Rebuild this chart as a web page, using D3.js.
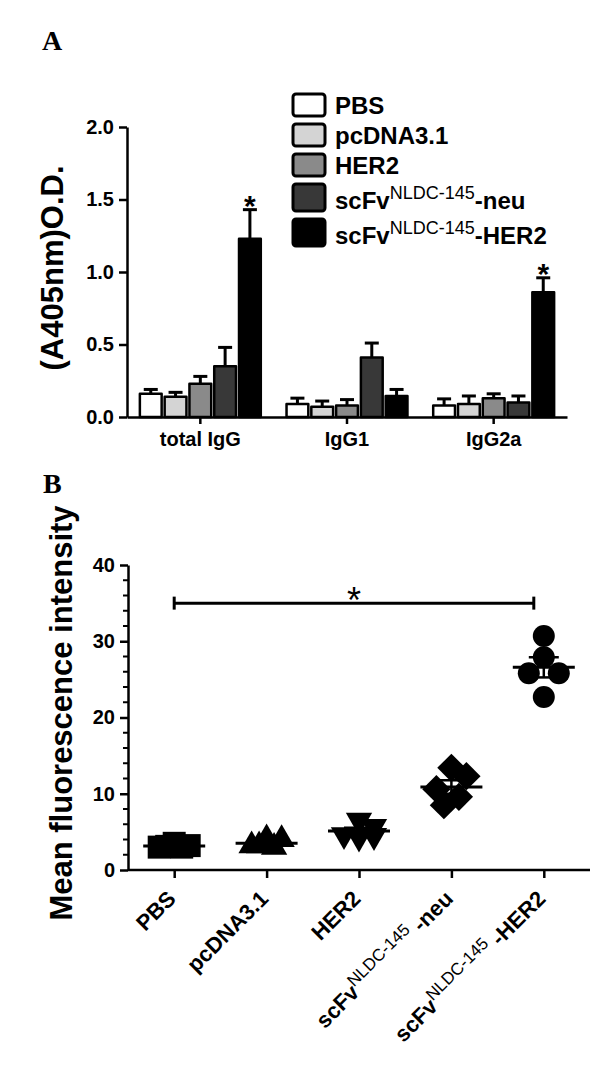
<!DOCTYPE html>
<html>
<head>
<meta charset="utf-8">
<script src="https://cdn.jsdelivr.net/npm/d3@7"></script>
<style>
  body { margin: 0; background: #fff; }
  svg { display: block; font-family: Arial, "Liberation Sans", sans-serif; }
</style>
</head>
<body>
<svg id="chart"></svg>
<script>
// ---------- panel A data (O.D. at 405nm, mean and upper error) ----------
let isotypes = ["total IgG", "IgG1", "IgG2a"];
let groupNames = ["PBS", "pcDNA3.1", "HER2", "scFv-neu", "scFv-HER2"];
let pbsOD = [0.16, 0.09, 0.08];
let pcdnaOD = [0.14, 0.07, 0.09];
let her2OD = [0.23, 0.08, 0.13];
let neuOD = [0.35, 0.41, 0.10];
let scHer2OD = [1.23, 0.145, 0.86];
let pbsErr = [0.03, 0.04, 0.045];
let pcdnaErr = [0.03, 0.04, 0.055];
let her2Err = [0.05, 0.04, 0.03];
let neuErr = [0.13, 0.10, 0.045];
let scHer2Err = [0.20, 0.045, 0.10];
let odTicks = [0, 0.5, 1.0, 1.5, 2.0];
let starredIsotypes = ["total IgG", "IgG2a"]; // * over scFv-HER2

// ---------- panel B data (mean fluorescence intensity, 5 mice / group) ----------
let mfiGroups = ["PBS", "pcDNA3.1", "HER2", "scFv-neu", "scFv-HER2"];
let mfiPBS = [3.5, 3.2, 3.0, 3.0, 3.1];
let mfiPcdna = [4.1, 4.0, 3.2, 3.0, 3.2];
let mfiHer2 = [6.5, 5.7, 4.6, 4.3, 4.5];
let mfiNeu = [13.4, 12.3, 10.6, 9.6, 8.5];
let mfiScHer2 = [30.7, 27.9, 25.8, 25.8, 22.7];
let mfiTicks = [0, 10, 20, 30, 40];
let sigLevel = 35; // bracket PBS .. scFv-HER2

let supText = "NLDC-145";

let width = 600;
let height = 1077;
let svg = d3.select("#chart").attr("width", width).attr("height", height);

let fills = ["#ffffff", "#d4d4d4", "#8a8a8a", "#383838", "#000000"];

// writes "scFv<sup>NLDC-145</sup>-xxx" style labels
let richLabel = (sel, name, supSize, supShift, sep) => {
  if (name.startsWith("scFv-")) {
    sel.append("tspan").text("scFv");
    sel.append("tspan").attr("dy", -supShift).attr("font-size", supSize)
      .attr("font-weight", "normal").text(supText);
    sel.append("tspan").attr("dy", supShift).text(sep + name.slice(4));
  } else {
    sel.text(name);
  }
};

let styleAxis = (g, fontSize) => {
  g.select(".domain").attr("stroke", "#000").attr("stroke-width", 2.5);
  g.selectAll(".tick line").attr("stroke", "#000").attr("stroke-width", 2.5);
  g.selectAll(".tick text").attr("fill", "#000").attr("font-size", fontSize)
    .attr("font-weight", "bold").attr("font-family", "Arial, 'Liberation Sans', sans-serif");
};

// =============== panel A ===============
svg.append("text").attr("x", 42).attr("y", 50)
  .attr("font-family", "'Times New Roman', 'Liberation Serif', serif")
  .attr("font-weight", "bold").attr("font-size", 28).text("A");

let yA = d3.scaleLinear().domain([0, 2]).range([417, 127]);
let xA = d3.scaleBand().domain(isotypes).range([127, 567])
  .paddingInner(0.155).paddingOuter(0.0775);
let xSub = d3.scaleBand().domain(groupNames).range([0, xA.bandwidth()]);

let odMeans = [pbsOD, pcdnaOD, her2OD, neuOD, scHer2OD];
let odErrs = [pbsErr, pcdnaErr, her2Err, neuErr, scHer2Err];
let barRows = [];
groupNames.forEach((g, gi) => {
  isotypes.forEach((iso, ii) => {
    barRows.push({ iso: iso, group: g, gi: gi, v: odMeans[gi][ii], e: odErrs[gi][ii] });
  });
});

let cx = (d) => xA(d.iso) + xSub(d.group) + xSub.bandwidth() / 2;

// error bars (upper only)
let errG = svg.append("g").attr("stroke", "#000").attr("stroke-width", 3);
errG.selectAll("line.v").data(barRows).enter().append("line")
  .attr("x1", cx).attr("x2", cx)
  .attr("y1", (d) => yA(d.v)).attr("y2", (d) => yA(d.v + d.e));
errG.selectAll("line.c").data(barRows).enter().append("line")
  .attr("x1", (d) => cx(d) - 7).attr("x2", (d) => cx(d) + 7)
  .attr("y1", (d) => yA(d.v + d.e)).attr("y2", (d) => yA(d.v + d.e));

svg.append("g").selectAll("rect").data(barRows).enter().append("rect")
  .attr("x", (d) => xA(d.iso) + xSub(d.group) + 1.5)
  .attr("width", xSub.bandwidth() - 3)
  .attr("y", (d) => yA(d.v))
  .attr("height", (d) => yA(0) - yA(d.v))
  .attr("fill", (d) => fills[d.gi])
  .attr("stroke", "#000").attr("stroke-width", 2.5)
  .attr("stroke-linejoin", "round");

svg.append("g").selectAll("text")
  .data(barRows.filter((d) => d.group === "scFv-HER2" && starredIsotypes.includes(d.iso)))
  .enter().append("text")
  .attr("x", cx).attr("y", (d) => yA(d.v + d.e) + 6)
  .attr("text-anchor", "middle").attr("font-size", 30).attr("font-weight", "bold")
  .text("*");

let yAxisA = svg.append("g").attr("transform", "translate(127,0)")
  .call(d3.axisLeft(yA).tickValues(odTicks).tickFormat(d3.format(".1f"))
    .tickSize(8).tickPadding(5).tickSizeOuter(0));
styleAxis(yAxisA, 20);

let xAxisA = svg.append("g").attr("transform", "translate(0,417)")
  .call(d3.axisBottom(xA).tickSize(7).tickPadding(8).tickSizeOuter(0));
styleAxis(xAxisA, 20);

svg.append("text")
  .attr("transform", "translate(63,268) rotate(-90)")
  .attr("text-anchor", "middle").attr("font-size", 31).attr("font-weight", "bold")
  .text("(A405nm)O.D.");

// legend
let legend = svg.append("g");
let ly = 94;
groupNames.forEach((g, i) => {
  let hasSup = g.startsWith("scFv-");
  let h = hasSup ? 27 : 22;
  legend.append("rect").attr("x", 293).attr("y", ly).attr("width", 32).attr("height", h)
    .attr("rx", 3).attr("fill", fills[i]).attr("stroke", "#000").attr("stroke-width", 3);
  let t = legend.append("text").attr("x", 335).attr("y", ly + h - 2)
    .attr("font-size", 24).attr("font-weight", "bold");
  richLabel(t, g, 18, 10, "");
  ly += h + 8;
});

// =============== panel B ===============
svg.append("text").attr("x", 43).attr("y", 493)
  .attr("font-family", "'Times New Roman', 'Liberation Serif', serif")
  .attr("font-weight", "bold").attr("font-size", 28).text("B");

let yB = d3.scaleLinear().domain([0, 40]).range([870, 565]);
let xB = d3.scalePoint().domain(mfiGroups).range([128, 590]).padding(0.5);

let mfiSets = [mfiPBS, mfiPcdna, mfiHer2, mfiNeu, mfiScHer2];
let shapes = [
  { type: d3.symbolSquare, size: 23 * 23, rot: 0, w: 23 },
  { type: d3.symbolTriangle, size: 300, rot: 0, w: 26 },
  { type: d3.symbolTriangle, size: 300, rot: 180, w: 26 },
  { type: d3.symbolSquare, size: 20 * 20, rot: 45, w: 28 },
  { type: d3.symbolCircle, size: Math.PI * 11 * 11, rot: 0, w: 22 },
];

// greedy scatter spreading: overlapping points move sideways, at most 2 steps
let swarm = (vals, w) => {
  let placed = [];
  let minD = w * 0.9;
  let step = 7.5;
  let cands = [0, step, -step, 2 * step, -2 * step];
  vals.forEach((v) => {
    let py = yB(v);
    let best = 0, bestD = -1;
    for (let c of cands) {
      let d = placed.length ? d3.min(placed, (p) => Math.hypot(p.dx - c, p.y - py)) : Infinity;
      if (d >= minD) { best = c; break; }
      if (d > bestD) { bestD = d; best = c; }
    }
    placed.push({ dx: best, y: py, v: v });
  });
  let lo = d3.min(placed, (p) => p.dx), hi = d3.max(placed, (p) => p.dx);
  placed.forEach((p) => (p.dx -= (lo + hi) / 2));
  return placed;
};

let ptsG = svg.append("g");
mfiGroups.forEach((g, gi) => {
  let vals = mfiSets[gi];
  let sh = shapes[gi];
  let pts = swarm(vals, sh.w);
  let x0 = xB(g);
  let mean = d3.mean(vals);
  let sem = d3.deviation(vals) / Math.sqrt(vals.length);

  ptsG.selectAll(null).data(pts).enter().append("path")
    .attr("d", d3.symbol().type(sh.type).size(sh.size))
    .attr("transform", (p) => "translate(" + (x0 + p.dx) + "," + p.y + ") rotate(" + sh.rot + ")")
    .attr("fill", "#000");

  // mean line and SEM
  ptsG.append("line").attr("x1", x0 - 31).attr("x2", x0 + 31)
    .attr("y1", yB(mean)).attr("y2", yB(mean)).attr("stroke", "#000").attr("stroke-width", 3);
  ptsG.append("line").attr("x1", x0).attr("x2", x0)
    .attr("y1", yB(mean - sem)).attr("y2", yB(mean + sem)).attr("stroke", "#000").attr("stroke-width", 2.5);
  [mean - sem, mean + sem].forEach((s) => {
    ptsG.append("line").attr("x1", x0 - 15).attr("x2", x0 + 15)
      .attr("y1", yB(s)).attr("y2", yB(s)).attr("stroke", "#000").attr("stroke-width", 2.5);
  });
});

// significance bracket
let sx1 = xB("PBS"), sx2 = xB("scFv-HER2") - 10, sy = yB(sigLevel);
let sig = svg.append("g").attr("stroke", "#000").attr("stroke-width", 3);
sig.append("line").attr("x1", sx1).attr("x2", sx2).attr("y1", sy).attr("y2", sy);
sig.append("line").attr("x1", sx1).attr("x2", sx1).attr("y1", sy - 6.5).attr("y2", sy + 6.5);
sig.append("line").attr("x1", sx2).attr("x2", sx2).attr("y1", sy - 6.5).attr("y2", sy + 6.5);
svg.append("text").attr("x", (sx1 + sx2) / 2).attr("y", sy + 10)
  .attr("text-anchor", "middle").attr("font-size", 36).text("*");

let yAxisB = svg.append("g").attr("transform", "translate(128,0)")
  .call(d3.axisLeft(yB).tickValues(mfiTicks).tickSize(8).tickPadding(5).tickSizeOuter(0));
styleAxis(yAxisB, 20);
// minor ticks every 2
yAxisB.selectAll("line.minor").data(d3.range(2, 40, 2).filter((v) => v % 10 !== 0))
  .enter().append("line").attr("class", "minor")
  .attr("x1", -5).attr("x2", 0).attr("y1", (d) => yB(d)).attr("y2", (d) => yB(d))
  .attr("stroke", "#000").attr("stroke-width", 2);

let xAxisB = svg.append("g").attr("transform", "translate(0,870)")
  .call(d3.axisBottom(xB).tickSize(8).tickSizeOuter(0).tickFormat(""));
styleAxis(xAxisB, 20);
xAxisB.select(".domain").attr("d", "M128,0H590");

svg.append("g").selectAll("text").data(mfiGroups).enter().append("text")
  .attr("transform", (d) => "translate(" + (xB(d) + 3) + ",900) rotate(-45)")
  .attr("text-anchor", "end").attr("font-size", 22).attr("font-weight", "bold")
  .each(function (d) { richLabel(d3.select(this), d, 17, 9, " "); });

svg.append("text")
  .attr("transform", "translate(72,713) rotate(-90)")
  .attr("text-anchor", "middle").attr("font-size", 31).attr("font-weight", "bold")
  .text("Mean fluorescence intensity");
</script>
</body>
</html>
